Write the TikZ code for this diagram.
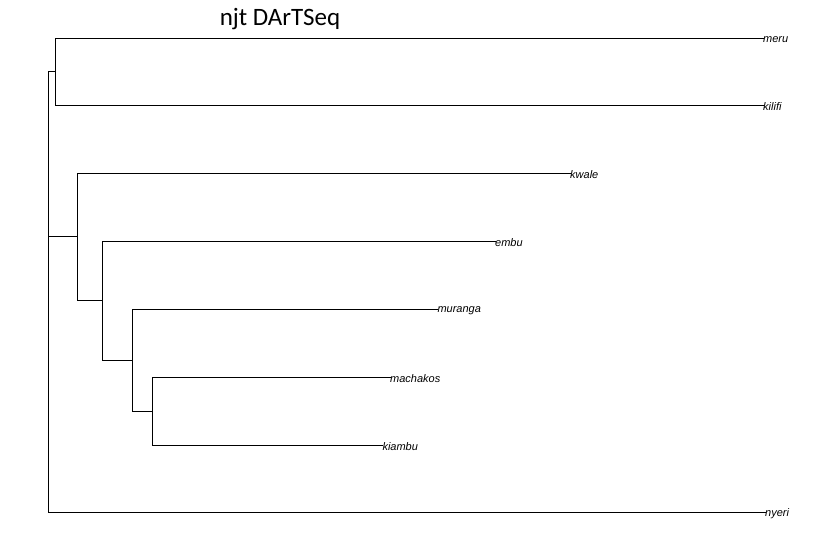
\documentclass[tikz,border=0pt]{standalone}
\usepackage{fontspec}
\setmainfont{Liberation Sans}
\newfontfamily\titlefont{Carlito}
\begin{document}
\begin{tikzpicture}[x=1pt,y=-1pt,
  branch/.style={line width=1pt, line cap=rect},
  tiplabel/.style={anchor=west, inner sep=0pt, font=\fontsize{11}{13}\selectfont\itshape, yshift=-1.5pt},
  titlestyle/.style={inner sep=0pt, font=\titlefont\fontsize{25}{28}\selectfont}]
\useasboundingbox (0,0) rectangle (838,551);
\node[titlestyle] (title) at (280,19) {njt DArTSeq};
% internal nodes
\coordinate (root) at (48.7,236.8);
\coordinate (n1) at (55.3,71.8);
\coordinate (n2) at (77.3,236.8);
\coordinate (n3) at (102.3,300.8);
\coordinate (n4) at (132.3,360.3);
\coordinate (n5) at (152.3,411.3);
% tips
\coordinate (tmeru) at (763,38.3);
\coordinate (tkilifi) at (763,105.3);
\coordinate (tkwale) at (570,173.3);
\coordinate (tembu) at (495,241.3);
\coordinate (tmuranga) at (437.3,309.3);
\coordinate (tmachakos) at (390,377.3);
\coordinate (tkiambu) at (382.3,445.3);
\coordinate (tnyeri) at (765,512.3);
\node[tiplabel] (meru) at (tmeru) {meru};
\node[tiplabel] (kilifi) at (tkilifi) {kilifi};
\node[tiplabel] (kwale) at (tkwale) {kwale};
\node[tiplabel] (embu) at (tembu) {embu};
\node[tiplabel] (muranga) at (tmuranga) {muranga};
\node[tiplabel] (machakos) at (tmachakos) {machakos};
\node[tiplabel] (kiambu) at (tkiambu) {kiambu};
\node[tiplabel] (nyeri) at (tnyeri) {nyeri};
% root
\draw[branch] (root |- n1) -- (root |- tnyeri) -- (tnyeri);
\draw[branch] (root |- n1) -- (n1);
\draw[branch] (root) -- (n2);
% meru/kilifi
\draw[branch] (tmeru) -- (n1 |- tmeru) -- (n1 |- tkilifi) -- (tkilifi);
% kwale clade
\draw[branch] (tkwale) -- (n2 |- tkwale) -- (n2 |- n3) -- (n3);
% embu clade
\draw[branch] (tembu) -- (n3 |- tembu) -- (n3 |- n4) -- (n4);
% muranga clade
\draw[branch] (tmuranga) -- (n4 |- tmuranga) -- (n4 |- n5) -- (n5);
% machakos/kiambu
\draw[branch] (tmachakos) -- (n5 |- tmachakos) -- (n5 |- tkiambu) -- (tkiambu);
\end{tikzpicture}
\end{document}
